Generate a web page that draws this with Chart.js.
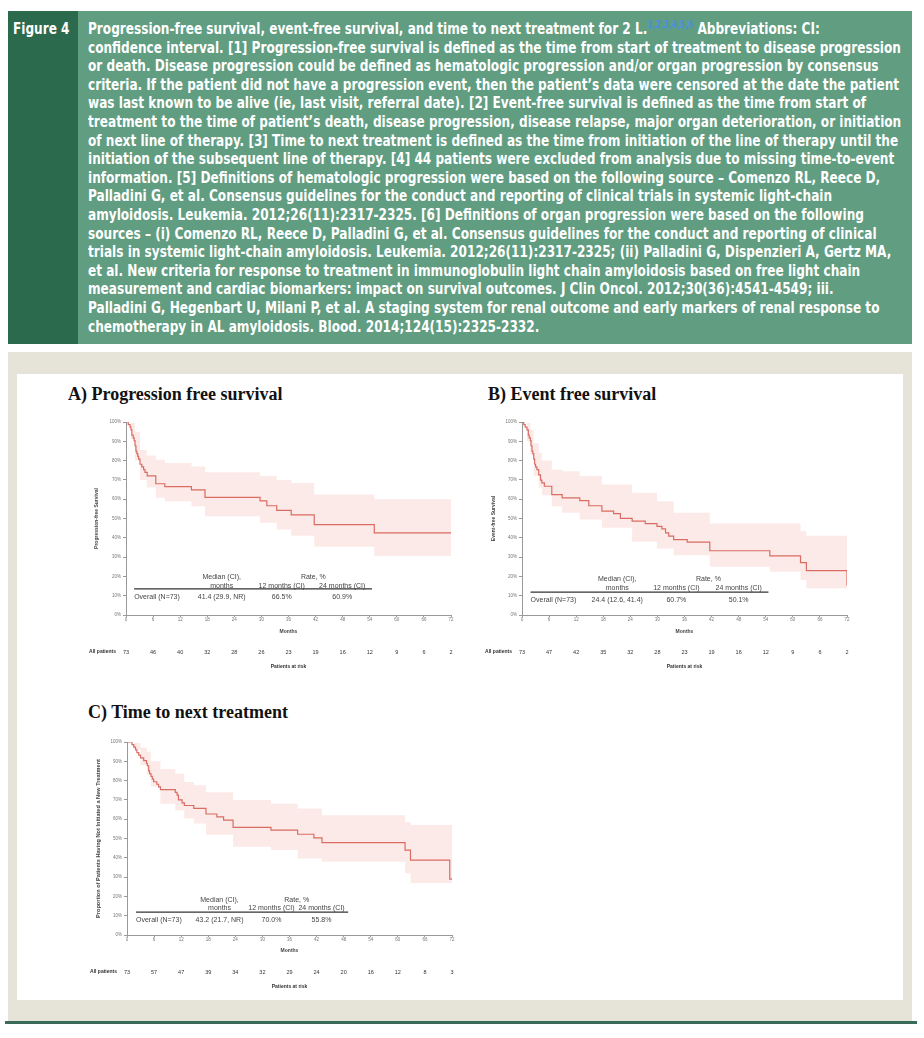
<!DOCTYPE html>
<html>
<head>
<meta charset="utf-8">
<script src="https://cdn.jsdelivr.net/npm/chart.js@4.4.1/dist/chart.umd.min.js"></script>
<style>
body { margin:0; width:924px; height:1038px; position:relative; background:#fff; overflow:hidden; }
#header { position:absolute; left:8px; top:11px; width:904px; height:333px; background:#609d81; }
#side { position:absolute; left:0; top:0; width:70px; height:333px; background:#2c6a4d; }
#figlabel { position:absolute; left:5px; top:9px; color:#fff; font:bold 16px "Liberation Sans Narrow","DejaVu Sans Condensed",sans-serif; line-height:18.6px; white-space:nowrap; }
#caption { position:absolute; left:80px; top:9px; color:#fff; font:bold 16px "Liberation Sans Narrow","DejaVu Sans Condensed",sans-serif; line-height:18.6px; white-space:nowrap; transform-origin:0 0; }
#caption sup { color:#4a8fe0; font-size:10px; line-height:0; }
#beige { position:absolute; left:8px; top:352px; width:904px; height:670px; background:#e6e3d8; }
#panel { position:absolute; left:17px; top:374px; width:886px; height:626px; background:#fff; }
#rule { position:absolute; left:5px; top:1021px; width:912px; height:3px; background:#3a6a58; }
.ttl { position:absolute; font:bold 18px "Liberation Serif","Times New Roman",serif; line-height:18px; color:#111; white-space:nowrap; }
canvas { position:absolute; }
</style>
</head>
<body>
<div id="header">
  <div id="side"></div>
  <div id="figlabel">Figure 4</div>
  <div id="caption">
    <div>Progression-free survival, event-free survival, and time to next treatment for 2 L.<sup>1,2,3,4,5,6</sup> Abbreviations: CI:</div>
    <div id="refline">confidence interval. [1] Progression-free survival is defined as the time from start of treatment to disease progression</div>
    <div>or death. Disease progression could be defined as hematologic progression and/or organ progression by consensus</div>
    <div>criteria. If the patient did not have a progression event, then the patient’s data were censored at the date the patient</div>
    <div>was last known to be alive (ie, last visit, referral date). [2] Event-free survival is defined as the time from start of</div>
    <div>treatment to the time of patient’s death, disease progression, disease relapse, major organ deterioration, or initiation</div>
    <div>of next line of therapy. [3] Time to next treatment is defined as the time from initiation of the line of therapy until the</div>
    <div>initiation of the subsequent line of therapy. [4] 44 patients were excluded from analysis due to missing time-to-event</div>
    <div>information. [5] Definitions of hematologic progression were based on the following source – Comenzo RL, Reece D,</div>
    <div>Palladini G, et al. Consensus guidelines for the conduct and reporting of clinical trials in systemic light-chain</div>
    <div>amyloidosis. Leukemia. 2012;26(11):2317-2325. [6] Definitions of organ progression were based on the following</div>
    <div>sources – (i) Comenzo RL, Reece D, Palladini G, et al. Consensus guidelines for the conduct and reporting of clinical</div>
    <div>trials in systemic light-chain amyloidosis. Leukemia. 2012;26(11):2317-2325; (ii) Palladini G, Dispenzieri A, Gertz MA,</div>
    <div>et al. New criteria for response to treatment in immunoglobulin light chain amyloidosis based on free light chain</div>
    <div>measurement and cardiac biomarkers: impact on survival outcomes. J Clin Oncol. 2012;30(36):4541-4549; iii.</div>
    <div>Palladini G, Hegenbart U, Milani P, et al. A staging system for renal outcome and early markers of renal response to</div>
    <div>chemotherapy in AL amyloidosis. Blood. 2014;124(15):2325-2332.</div>
  </div>
</div>
<div id="beige"></div>
<div id="panel"></div>
<div id="rule"></div>

<div class="ttl" style="left:68px; top:385px;">A) Progression free survival</div>
<div class="ttl" style="left:488px; top:385px;">B) Event free survival</div>
<div class="ttl" style="left:88px; top:703px;">C) Time to next treatment</div>

<canvas id="chartA" width="390" height="275" style="left:80px; top:405px;"></canvas>
<canvas id="chartB" width="390" height="275" style="left:478px; top:405px;"></canvas>
<canvas id="chartC" width="390" height="275" style="left:82px; top:725px;"></canvas>

<script>
// ---- values ----
const monthTicks = [0, 6, 12, 18, 24, 30, 36, 42, 48, 54, 60, 66, 72];

// A) Progression free survival
const pfsMonths = [0, 0.5, 0.9, 1.1, 1.3, 1.6, 1.8, 2.0, 2.2, 2.4, 2.6, 2.8, 3.1, 3.5, 3.9, 4.2, 4.7, 6.6, 8.6, 14.5, 17.5, 29.7, 31.2, 33.4, 36.6, 41.7, 55.0, 72];
const pfsSurv   = [100, 98.6, 97.3, 95.9, 93.2, 91.8, 90.4, 87.7, 84.9, 83.6, 82.2, 80.8, 78.1, 76.7, 75.3, 73.9, 72.1, 68.0, 66.5, 64.8, 60.9, 59.1, 56.6, 54.2, 51.9, 46.8, 42.6, 42.6];
const pfsBandMonths = [0, 1.1, 2.0, 3.1, 4.6, 6.6, 8.6, 14.5, 17.5, 29.7, 33.4, 36.6, 41.7, 55.0, 72];
const pfsUpper = [100, 99.5, 95, 85.5, 82.6, 80.5, 78.8, 77, 74, 72, 70, 68.4, 62.4, 60, 60];
const pfsLower = [100, 91, 80, 70, 66, 60.7, 59, 56.4, 51.2, 47.8, 44.3, 41, 35.4, 30.6, 30.6];
const pfsAtRisk = [73, 46, 40, 32, 28, 26, 23, 19, 16, 12, 9, 6, 2];
const pfsRow = ['Overall (N=73)', '41.4 (29.9, NR)', '66.5%', '60.9%'];

// B) Event free survival
const efsMonths = [0, 0.4, 0.7, 1.1, 1.4, 1.6, 1.85, 2.0, 2.2, 2.4, 2.6, 2.8, 3.0, 3.3, 3.7, 4.1, 4.4, 4.95, 6.6, 8.9, 12.8, 14.8, 17.7, 20.3, 21.8, 24.4, 27.3, 29.9, 31.0, 31.8, 32.5, 33.6, 36.6, 41.6, 54.9, 61.7, 63.0, 72];
const efsSurv   = [100, 98.6, 97.3, 95.9, 93.2, 91.8, 90.4, 87.7, 84.9, 83.6, 80.8, 78.1, 76.7, 75.3, 72.6, 69.9, 68.5, 66.7, 62.4, 60.7, 59.3, 56.6, 53.8, 52.5, 50.1, 48.6, 47.3, 45.9, 44.6, 42.6, 40.9, 39.1, 37.8, 33.3, 30.6, 27.1, 23.0, 15.2];
const efsBandMonths = [0, 1.1, 1.85, 2.6, 3.7, 4.4, 6.6, 8.9, 12.8, 17.7, 24.4, 29.9, 33.6, 41.6, 54.9, 61.7, 63.0, 72];
const efsUpper = [100, 99.5, 96, 89, 84, 80, 75.3, 74.5, 72, 67.6, 63.3, 59, 53, 47.4, 47.4, 43.4, 41, 41];
const efsLower = [100, 90, 83, 72, 66, 62, 56.4, 53, 49.5, 45.2, 38, 34.5, 31, 25, 22.4, 18.1, 13.8, 13.8];
const efsAtRisk = [73, 47, 42, 35, 32, 28, 23, 19, 16, 12, 9, 6, 2];
const efsRow = ['Overall (N=73)', '24.4 (12.6, 41.4)', '60.7%', '50.1%'];

// C) Time to next treatment
const ttntMonths = [0, 1.1, 1.5, 1.9, 2.2, 2.6, 3.0, 3.7, 4.3, 4.5, 4.8, 5.0, 5.3, 5.6, 5.9, 6.6, 7.0, 7.4, 10.7, 11.1, 11.4, 12.2, 12.7, 14.8, 17.5, 19.9, 21.4, 23.5, 31.9, 37.8, 41.4, 43.2, 61.6, 62.8, 71.5, 72];
const ttntSurv   = [100, 98.6, 97.3, 95.9, 94.5, 93.2, 91.8, 90.4, 89.0, 87.7, 85.0, 83.6, 82.2, 80.8, 79.4, 78.1, 76.7, 75.3, 73.9, 72.5, 70.0, 68.5, 67.1, 65.6, 62.7, 61.2, 59.5, 55.8, 54.3, 52.2, 50.3, 47.9, 44.0, 38.8, 29.0, 29.0];
const ttntBandMonths = [0, 1.5, 3.0, 4.4, 5.3, 7.4, 10.7, 12.7, 14.8, 17.5, 23.5, 31.9, 37.8, 43.2, 61.6, 62.8, 72];
const ttntUpper = [100, 99.5, 97, 95, 90, 86, 83.6, 79.3, 77.6, 74, 70, 68, 65.5, 62, 58.6, 57, 57];
const ttntLower = [100, 96, 88, 83, 77, 68, 64.7, 60.3, 57.8, 52, 45.7, 44, 39.7, 38, 32, 27, 27];
const ttntAtRisk = [73, 57, 47, 39, 34, 32, 29, 24, 20, 16, 12, 8, 3];
const ttntRow = ['Overall (N=73)', '43.2 (21.7, NR)', '70.0%', '55.8%'];

// caption: squeeze to the column width like the printed figure
const cap = document.getElementById('caption');
const refW = document.getElementById('refline').scrollWidth;
cap.style.transform = 'scaleX(' + (813 / refW) + ')';
document.getElementById('figlabel').style.transform = 'scaleX(' + Math.min(1, 813 / refW) + ')';
document.getElementById('figlabel').style.transformOrigin = '0 0';

Chart.defaults.font.family = '"Liberation Sans", Arial, sans-serif';

const FONT = '"Liberation Sans", Arial, sans-serif';

// draws the little summary table and the patients-at-risk row
const kmExtras = {
  id: 'kmExtras',
  afterDraw(chart, args, o) {
    const {ctx, chartArea} = chart;
    const x = chart.scales.x, y = chart.scales.y;
    const [h1, h2, lineY, rowY] = o.tableY;
    ctx.save();
    ctx.fillStyle = '#444';
    ctx.textBaseline = 'middle';
    ctx.font = '7px ' + FONT;
    ctx.textAlign = 'center';
    ctx.fillText('Median (CI),', x.getPixelForValue(o.cols[1]), y.getPixelForValue(h1));
    ctx.fillText('months', x.getPixelForValue(o.cols[1]), y.getPixelForValue(h2));
    ctx.fillText('Rate, %', x.getPixelForValue(o.rateAt), y.getPixelForValue(h1));
    ctx.fillText('12 months (CI)', x.getPixelForValue(o.cols[2]), y.getPixelForValue(h2));
    ctx.fillText('24 months (CI)', x.getPixelForValue(o.cols[3]), y.getPixelForValue(h2));
    o.row.forEach((t, i) => {
      ctx.textAlign = i === 0 ? 'left' : 'center';
      ctx.fillText(t, x.getPixelForValue(o.cols[i]), y.getPixelForValue(rowY));
    });
    ctx.strokeStyle = '#333';
    ctx.lineWidth = 1.2;
    ctx.beginPath();
    ctx.moveTo(x.getPixelForValue(o.cols[0]), y.getPixelForValue(lineY));
    ctx.lineTo(x.getPixelForValue(o.lineEnd), y.getPixelForValue(lineY));
    ctx.stroke();

    // patients at risk
    const riskY = chartArea.bottom + 37;
    ctx.fillStyle = '#333';
    ctx.font = 'bold 5px ' + FONT;
    ctx.textAlign = 'right';
    ctx.fillText('All patients', chartArea.left - 10, riskY);
    ctx.font = '5.5px ' + FONT;
    ctx.textAlign = 'center';
    o.atRisk.forEach((n, i) => ctx.fillText(String(n), x.getPixelForValue(monthTicks[i]), riskY));
    ctx.font = 'bold 5px ' + FONT;
    ctx.fillText('Patients at risk', (chartArea.left + chartArea.right) / 2, chartArea.bottom + 52);
    ctx.restore();
  }
};

function toPoints(xs, ys) {
  return xs.map((m, i) => ({x: m, y: ys[i]}));
}

function makeKM(id, c) {
  const ctx = document.getElementById(id).getContext('2d');
  return new Chart(ctx, {
    type: 'line',
    data: {
      datasets: [{
        data: toPoints(c.months, c.surv),
        borderColor: '#d96c63',
        borderWidth: 1.2,
        stepped: true,
        pointRadius: 0,
        fill: false
      }, {
        data: toPoints(c.bandMonths, c.upper),
        borderColor: 'rgba(0,0,0,0)',
        borderWidth: 0,
        stepped: true,
        pointRadius: 0,
        fill: false
      }, {
        data: toPoints(c.bandMonths, c.lower),
        borderColor: 'rgba(0,0,0,0)',
        borderWidth: 0,
        stepped: true,
        pointRadius: 0,
        fill: '-1',
        backgroundColor: 'rgba(247, 190, 184, 0.32)'
      }]
    },
    options: {
      responsive: false,
      animation: false,
      events: [],
      layout: {padding: {left: 0, right: c.padRight, top: 17, bottom: 0}},
      scales: {
        x: {
          type: 'linear',
          min: 0,
          max: 72,
          ticks: {stepSize: 6, autoSkip: false, maxRotation: 0, padding: 0.5, color: '#777', font: {size: 4.5}},
          grid: {drawOnChartArea: false, tickLength: 2, color: '#999'},
          border: {color: '#999', width: 1},
          title: {display: true, text: 'Months', color: '#444', font: {size: 5, weight: 'bold'}, padding: {top: 0, bottom: c.monthsPad}},
          afterFit(s) { s.height = 65; }
        },
        y: {
          min: 0,
          max: 100,
          ticks: {stepSize: 10, padding: 2, color: '#777', font: {size: 4.5}, callback: v => v + '%'},
          grid: {drawOnChartArea: false, tickLength: 3, color: '#999'},
          border: {color: '#999', width: 1},
          title: {display: true, text: c.yTitle, color: '#444', font: {size: c.yTitleSize, weight: 'bold'}, padding: {top: c.yTitlePad}},
          afterFit(s) { s.width = c.yWidth; }
        }
      },
      plugins: {
        legend: {display: false},
        tooltip: {enabled: false},
        kmExtras: {
          atRisk: c.atRisk,
          row: c.row,
          cols: c.cols,
          rateAt: c.rateAt,
          lineEnd: c.lineEnd,
          tableY: c.tableY
        }
      }
    },
    plugins: [kmExtras]
  });
}

makeKM('chartA', {
  months: pfsMonths, surv: pfsSurv,
  bandMonths: pfsBandMonths, upper: pfsUpper, lower: pfsLower,
  atRisk: pfsAtRisk, row: pfsRow,
  yTitle: 'Progression-free Survival', yTitleSize: 5,
  yWidth: 46, yTitlePad: 14, padRight: 19, monthsPad: 45,
  cols: [1.8, 21.2, 34.5, 47.9], rateAt: 41.5, lineEnd: 54.5,
  tableY: [19.8, 15.2, 13.5, 9.2]
});

makeKM('chartB', {
  months: efsMonths, surv: efsSurv,
  bandMonths: efsBandMonths, upper: efsUpper, lower: efsLower,
  atRisk: efsAtRisk, row: efsRow,
  yTitle: 'Event-free Survival', yTitleSize: 5,
  yWidth: 44, yTitlePad: 13, padRight: 21, monthsPad: 45,
  cols: [1.9, 21.1, 34.2, 48.0], rateAt: 41.3, lineEnd: 54.6,
  tableY: [18.8, 13.9, 11.9, 7.8]
});

makeKM('chartC', {
  months: ttntMonths, surv: ttntSurv,
  bandMonths: ttntBandMonths, upper: ttntUpper, lower: ttntLower,
  atRisk: ttntAtRisk, row: ttntRow,
  yTitle: 'Proportion of Patients Having Not Initiated a New Treatment', yTitleSize: 5.6,
  yWidth: 45, yTitlePad: 13, padRight: 20, monthsPad: 46,
  cols: [2.0, 20.5, 32.0, 43.1], rateAt: 37.6, lineEnd: 49,
  tableY: [18.1, 13.8, 11.9, 7.8]
});
</script>
</body>
</html>
